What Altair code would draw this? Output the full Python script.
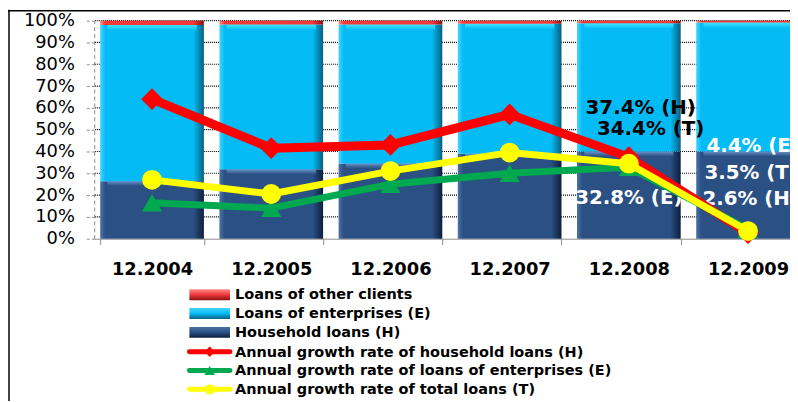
import altair as alt
import pandas as pd

# ---------------- data ----------------
years = ["12.2004", "12.2005", "12.2006", "12.2007", "12.2008", "12.2009"]
household = [26.4, 31.8, 34.5, 39.0, 40.0, 40.0]
enterprises = [71.6, 66.4, 63.7, 59.6, 58.8, 59.1]
other = [2.0, 1.8, 1.8, 1.4, 1.2, 0.9]

growth_h = [64.0, 41.5, 43.0, 57.0, 37.4, 2.6]
growth_e = [16.5, 14.0, 25.0, 30.0, 32.8, 4.4]
growth_t = [27.0, 20.5, 31.0, 39.5, 34.4, 3.5]

y_ticks = [0, 10, 20, 30, 40, 50, 60, 70, 80, 90, 100]

bar_names = ["Loans of other clients", "Loans of enterprises (E)", "Household loans (H)"]
line_names = [
    "Annual growth rate of household loans (H)",
    "Annual growth rate of loans of enterprises (E)",
    "Annual growth rate of total loans (T)",
]

ann_years = ["12.2008", "12.2008", "12.2008", "12.2009", "12.2009", "12.2009"]
ann_vals = [60.0, 50.5, 18.6, 42.3, 30.0, 18.2]
ann_text = ["37.4% (H)", "34.4% (T)", "32.8% (E)", "4.4% (E)", "3.5% (T)", "2.6% (H)"]
ann_color = ["black", "black", "white", "white", "white", "white"]
ann_align = ["center", "center", "center", "left", "left", "left"]
ann_dx = [12, 22, 0, -42, -44, -46]

FONT = "DejaVu Sans"

# ---------------- tables ----------------
rows = []
for i, yr in enumerate(years):
    h, e, o = household[i], enterprises[i], other[i]
    rows.append({"year": yr, "series": bar_names[2], "y0": 0, "y1": h, "hl": h - 2.2})
    rows.append({"year": yr, "series": bar_names[1], "y0": h, "y1": h + e, "hl": h + e - 2.5})
    rows.append({"year": yr, "series": bar_names[0], "y0": h + e, "y1": h + e + o, "hl": h + e})
bars_df = pd.DataFrame(rows)
lines_df = pd.DataFrame({"year": years, "gh": growth_h, "ge": growth_e, "gt": growth_t})
grid_df = pd.DataFrame({"g": y_ticks[1:]})

x_axis = alt.Axis(
    title=None, labelFont=FONT, labelFontSize=18, labelFontWeight="bold",
    labelColor="black", labelAngle=0, domainColor="#8c8c8c", tickColor="#8c8c8c",
    tickSize=6, tickBand="extent", labelPadding=16, grid=False,
)
x_scale = alt.Scale(range=[0, 718], paddingInner=0.13, paddingOuter=0.05)
y_scale = alt.Scale(domain=[0, 100], nice=False)
y_axis = alt.Axis(
    title=None, values=y_ticks, labelExpr="datum.value + '%'",
    labelFont=FONT, labelFontSize=18, labelColor="black", tickSize=8, labelPadding=12,
    domainColor="#8c8c8c", domainDash=[4, 3], tickColor="#8c8c8c", tickDash=[3, 2],
    grid=False,
)


def X():
    return alt.X("year:N", sort=years, scale=x_scale, axis=x_axis)


def Y(field):
    return alt.Y(field, scale=y_scale, axis=y_axis)


def grad(c_light, c_main, c_dark):
    return alt.LinearGradient(
        gradient="linear", x1=0, x2=1, y1=0, y2=0,
        stops=[
            alt.GradientStop(offset=0, color=c_light),
            alt.GradientStop(offset=0.05, color=c_main),
            alt.GradientStop(offset=0.9, color=c_main),
            alt.GradientStop(offset=1, color=c_dark),
        ],
    )


def vgrad(c_top, c_bottom):
    return alt.LinearGradient(
        gradient="linear", x1=0, x2=0, y1=0, y2=1,
        stops=[alt.GradientStop(offset=0, color=c_top),
               alt.GradientStop(offset=1, color=c_bottom)],
    )


bar_fills = {
    bar_names[2]: ("#4d72a6", "#2b5083", "#0c1f3d"),
    bar_names[1]: ("#45d4ff", "#05bbf5", "#05607f"),
    bar_names[0]: ("#ff8a8a", "#f03a3a", "#8a1010"),
}
highlights = {
    bar_names[2]: ("#6b93c8", "#2b5083"),
    bar_names[1]: ("#3fe6ff", "#05bbf5"),
}

layers = []
# dotted gridlines (behind the bars, visible in the gaps)
layers.append(
    alt.Chart(grid_df).mark_rule(color="black", strokeWidth=1.2, strokeDash=[1, 1])
    .encode(y=Y("g:Q"), x=alt.value(1), x2=alt.value(720))
)

for name in [bar_names[2], bar_names[1], bar_names[0]]:
    sub = bars_df[bars_df.series == name]
    layers.append(
        alt.Chart(sub).mark_bar(color=grad(*bar_fills[name])).encode(x=X(), y=Y("y0:Q"), y2="y1:Q")
    )
    if name in highlights:
        layers.append(
            alt.Chart(sub).mark_bar(color=vgrad(*highlights[name]), width=alt.RelativeBandSize(0.86))
            .encode(x=X(), y=Y("hl:Q"), y2="y1:Q")
        )

# annotations (beneath lines)
for i in range(len(ann_text)):
    adf = pd.DataFrame({"year": [ann_years[i]], "v": [ann_vals[i]], "t": [ann_text[i]]})
    layers.append(
        alt.Chart(adf).mark_text(
            font=FONT, fontSize=20, fontWeight="bold", color=ann_color[i],
            align=ann_align[i], baseline="middle", dx=ann_dx[i],
        ).encode(x=X(), y=Y("v:Q"), text="t:N")
    )

line_specs = [
    ("gh", "#ff0000", 9, "diamond", 480),
    ("ge", "#00a84f", 7, "triangle-up", 420),
    ("gt", "#ffff00", 7, "circle", 400),
]
for col, colr, sw, shp, sz in line_specs:
    layers.append(
        alt.Chart(lines_df).mark_line(color=colr, strokeWidth=sw, strokeJoin="round", strokeCap="round")
        .encode(x=X(), y=Y(f"{col}:Q"))
    )
    layers.append(
        alt.Chart(lines_df).mark_point(shape=shp, filled=True, size=sz, color=colr, opacity=1)
        .encode(x=X(), y=Y(f"{col}:Q"))
    )

# ---------------- legend (layout) ----------------
leg_x0, leg_x1, leg_tx = 96, 137, 142
leg_y = [276, 295, 314, 334, 353, 372]
one = pd.DataFrame({"a": [0]})
leg_bar_fill = [bar_fills[bar_names[0]], bar_fills[bar_names[1]], bar_fills[bar_names[2]]]
for i, name in enumerate(bar_names):
    c = leg_bar_fill[i]
    layers.append(
        alt.Chart(one).mark_rect(
            color=alt.LinearGradient(
                gradient="linear", x1=0, x2=0, y1=0, y2=1,
                stops=[alt.GradientStop(offset=0, color=c[0]),
                       alt.GradientStop(offset=0.5, color=c[1]),
                       alt.GradientStop(offset=1, color=c[2])],
            )
        ).encode(x=alt.value(leg_x0), x2=alt.value(leg_x1),
                 y=alt.value(leg_y[i] - 5), y2=alt.value(leg_y[i] + 6))
    )
for j, (col, colr, sw, shp, sz) in enumerate(line_specs):
    yy = leg_y[3 + j]
    layers.append(
        alt.Chart(one).mark_rule(color=colr, strokeWidth=5, strokeCap="round")
        .encode(x=alt.value(leg_x0), x2=alt.value(leg_x1), y=alt.value(yy))
    )
    layers.append(
        alt.Chart(one).mark_point(shape=shp, filled=True, size=110, color=colr, opacity=1)
        .encode(x=alt.value((leg_x0 + leg_x1) / 2), y=alt.value(yy))
    )
for i, name in enumerate(bar_names + line_names):
    layers.append(
        alt.Chart(pd.DataFrame({"t": [name]})).mark_text(
            font=FONT, fontSize=14.6, fontWeight="bold", color="black",
            align="left", baseline="middle",
        ).encode(x=alt.value(leg_tx), y=alt.value(leg_y[i] + 1), text="t:N")
    )

# chart border
layers.append(
    alt.Chart(one).mark_rule(color="black", strokeWidth=1.5)
    .encode(x=alt.value(-86), y=alt.value(-11), y2=alt.value(400))
)
layers.append(
    alt.Chart(one).mark_rule(color="black", strokeWidth=1.5)
    .encode(x=alt.value(-87), x2=alt.value(720), y=alt.value(-10))
)

chart = alt.layer(*layers).properties(
    width=702, height=220,
    autosize=alt.AutoSizeParams(type="none"),
    padding={"left": 87, "top": 11, "right": 0, "bottom": 162},
    background="white",
).configure_view(stroke=None)

chart.save("out.html", embed_options={"renderer": "svg", "actions": False})
